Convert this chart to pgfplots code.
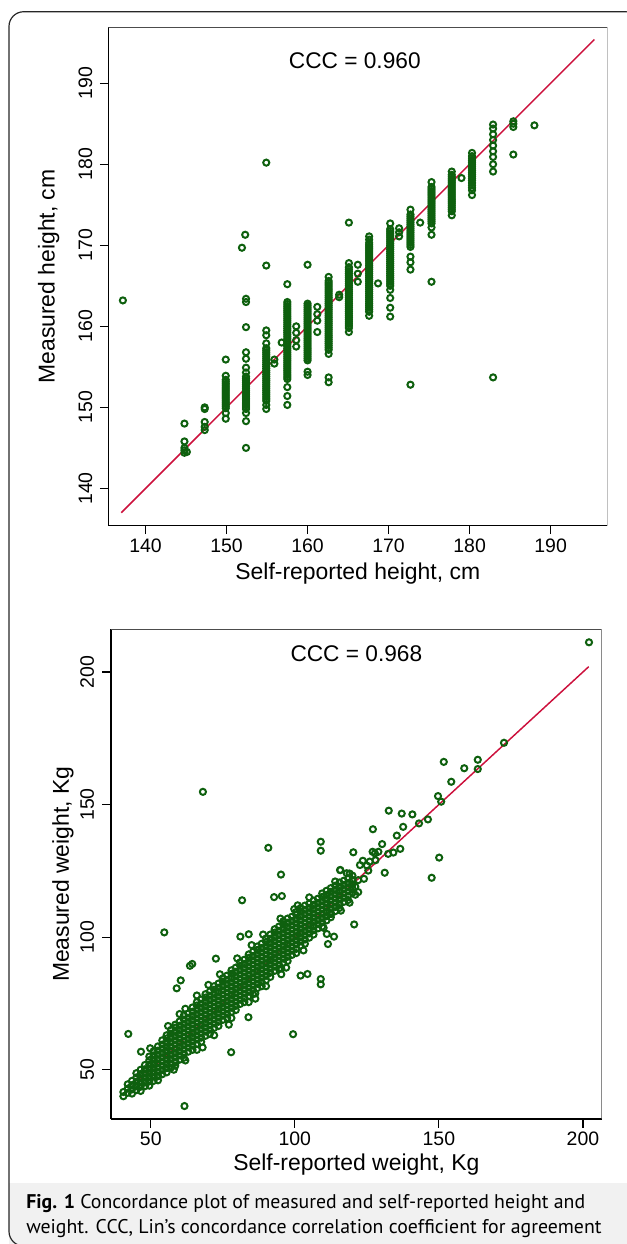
\documentclass[border=0pt]{standalone}
\usepackage{fontspec}
\setmainfont{Liberation Sans}
\newfontfamily\capfont{PT Sans}
\usepackage{pgfplots}
\pgfplotsset{compat=1.18}
\definecolor{mk}{RGB}{14,96,14}
\definecolor{ln}{RGB}{204,16,60}
\definecolor{capbg}{RGB}{241,241,241}
\pgfplotsset{stata/.style={
  scale only axis, anchor=north west,
  axis lines*=left,
  axis line style={black, line width=0.9pt},
  every tick/.style={black, line width=0.9pt},
  major tick length=6.4pt,
  tick align=outside,
  /pgf/number format/assume math mode=true,
  ticklabel style={font=\fontsize{14.6}{14.6}\selectfont},
  label style={font=\fontsize{17.2}{17.2}\selectfont},
  mks/.style={only marks, mark=o, mark size=2.3pt, mark options={mk, line width=1.5pt, solid}},
}}
\begin{document}
\begin{tikzpicture}
\useasboundingbox (0,0) rectangle (470.25pt,-933pt);
\fill[capbg] (6.75pt,-887pt) rectangle (480pt,-940pt);
\draw[line width=0.9pt, black!85, rounded corners=11pt] (6.75pt,-8.8pt) rectangle (480pt,-934.5pt);

% ---------------- Height ----------------
\begin{axis}[stata,
  at={(81.225pt,-20.475pt)}, width=374.25pt, height=373.8pt,
  xmin=135.4, xmax=197.0, ymin=135.4, ymax=196.9,
  xtick={140,150,160,170,180,190}, ytick={140,150,160,170,180,190},
  xticklabel style={anchor=base, yshift=-13.85pt},
  yticklabel style={xshift=-5.8pt, rotate=90, anchor=base},
  xlabel={Self-reported height, cm},
  ylabel={Measured height, cm},
  xlabel style={at={(axis description cs:0.5,0)}, anchor=base, yshift=-40.7pt},
  ylabel style={at={(axis description cs:-0.1078,0.5)}, anchor=base},
]
\addplot[mks] coordinates {
(137.2,163.2)
(144.8,144.4)(144.8,144.7)(144.8,145.0)(144.8,145.8)(144.8,148.0)(145.1,144.5)
(147.3,147.2)(147.3,147.6)(147.3,148.2)(147.3,149.8)(147.3,150.0)
(149.9,148.6)(149.9,149.3)(149.9,149.9)(149.9,150.4)(149.9,150.9)(149.9,151.4)(149.9,151.9)(149.9,152.4)(149.9,152.9)(149.9,153.4)(149.9,153.9)(149.9,155.9)
(152.4,145.0)(152.4,148.3)(152.4,149.3)(152.4,149.8)(152.4,150.3)(152.4,150.8)(152.4,151.3)(152.4,151.8)(152.4,152.3)(152.4,152.8)(152.4,153.3)(152.4,153.8)(152.4,154.3)(152.4,154.9)(152.4,156.0)(152.4,156.8)(152.4,159.9)(152.4,163.0)(152.4,163.4)(151.9,169.7)(152.3,171.3)
(154.9,149.8)(154.9,150.3)(154.9,150.8)(154.9,151.3)(154.9,151.8)(154.9,152.3)(154.9,152.8)(154.9,153.3)(154.9,153.8)(154.9,154.3)(154.9,154.8)(154.9,155.3)(154.9,155.8)(154.9,156.3)(154.9,156.8)(154.9,157.3)(154.9,157.9)(154.9,158.9)(154.9,159.5)(154.9,167.5)(154.9,180.2)
(155.9,155.4)(155.9,155.9)(156.8,158.0)
(157.5,150.3)(157.5,151.4)(157.5,152.5)(157.5,153.5)(157.5,154.0)(157.5,154.5)(157.5,155.0)(157.5,155.5)(157.5,156.0)(157.5,156.5)(157.5,157.0)(157.5,157.5)(157.5,158.0)(157.5,158.5)(157.5,159.0)(157.5,159.5)(157.5,160.0)(157.5,160.5)(157.5,161.0)(157.5,161.5)(157.5,162.0)(157.5,162.5)(157.5,163.0)(157.5,165.2)
(158.6,157.5)(158.6,158.3)(158.6,159.2)(158.6,160.0)
(160.0,154.0)(160.0,154.4)(160.0,155.8)(160.0,156.3)(160.0,156.8)(160.0,157.3)(160.0,157.8)(160.0,158.3)(160.0,158.8)(160.0,159.3)(160.0,159.8)(160.0,160.3)(160.0,160.8)(160.0,161.3)(160.0,161.8)(160.0,162.3)(160.0,162.8)(160.0,167.6)
(161.2,159.3)(161.2,160.7)(161.2,161.5)(161.2,162.4)
(162.6,153.1)(162.6,153.7)(162.6,156.6)(162.6,157.1)(162.6,157.6)(162.6,158.1)(162.6,158.6)(162.6,159.1)(162.6,159.6)(162.6,160.1)(162.6,160.6)(162.6,161.1)(162.6,161.6)(162.6,162.1)(162.6,162.6)(162.6,163.1)(162.6,163.6)(162.6,164.1)(162.6,164.6)(162.6,165.1)(162.6,165.6)(162.6,166.1)
(163.9,163.6)(163.9,163.9)
(165.1,159.3)(165.1,159.8)(165.1,160.3)(165.1,160.8)(165.1,161.3)(165.1,161.8)(165.1,162.3)(165.1,162.8)(165.1,163.3)(165.1,163.8)(165.1,164.3)(165.1,164.8)(165.1,165.3)(165.1,165.8)(165.1,166.3)(165.1,166.8)(165.1,167.3)(165.1,167.8)(165.1,172.8)
(166.2,165.5)(166.2,166.5)(166.2,167.6)
(167.6,161.3)(167.6,161.8)(167.6,162.3)(167.6,162.8)(167.6,163.3)(167.6,163.8)(167.6,164.3)(167.6,164.8)(167.6,165.3)(167.6,165.8)(167.6,166.3)(167.6,166.8)(167.6,167.3)(167.6,167.8)(167.6,168.3)(167.6,168.8)(167.6,169.3)(167.6,169.8)(167.6,170.3)(167.6,170.7)(167.6,171.1)
(168.7,165.3)
(170.2,161.2)(170.2,162.3)(170.2,163.5)(170.2,164.5)(170.2,165.0)(170.2,165.5)(170.2,166.0)(170.2,166.5)(170.2,167.0)(170.2,167.5)(170.2,168.0)(170.2,168.5)(170.2,169.0)(170.2,169.5)(170.2,170.0)(170.2,170.5)(170.2,171.0)(170.2,171.5)(170.2,172.0)(170.2,172.7)
(171.3,171.1)(171.3,171.6)(171.3,172.1)
(172.7,152.8)(172.7,167.0)(172.7,167.9)(172.7,168.6)(172.7,169.8)(172.7,170.3)(172.7,170.8)(172.7,171.3)(172.7,171.8)(172.7,172.3)(172.7,172.8)(172.7,173.3)(172.7,173.8)(172.7,174.4)
(173.9,172.8)
(175.3,165.5)(175.3,171.3)(175.3,172.2)(175.3,172.7)(175.3,173.2)(175.3,173.7)(175.3,174.2)(175.3,174.7)(175.3,175.2)(175.3,175.7)(175.3,176.2)(175.3,176.7)(175.3,177.2)(175.3,177.8)
(177.8,173.7)(177.8,174.2)(177.8,174.7)(177.8,175.2)(177.8,175.7)(177.8,176.2)(177.8,176.7)(177.8,177.2)(177.8,177.7)(177.8,178.2)(177.8,178.7)(177.8,179.1)
(179.0,178.3)
(180.3,176.2)(180.3,176.8)(180.3,177.4)(180.3,178.0)(180.3,178.5)(180.3,179.0)(180.3,179.5)(180.3,180.0)(180.3,180.5)(180.3,181.0)(180.3,181.4)
(182.9,153.7)(182.9,179.1)(182.9,180.0)(182.9,180.9)(182.9,181.6)(182.9,182.3)(182.9,183.0)(182.9,183.7)(182.9,184.4)(182.9,184.9)
(185.4,181.2)(185.4,184.6)(185.4,185.0)(185.4,185.3)
(188.0,184.8)
(149.9,150.15)(149.9,150.65)(149.9,151.15)(149.9,151.65)(149.9,152.15)(149.9,152.65)(149.9,153.15)
(152.4,150.05)(152.4,150.55)(152.4,151.05)(152.4,151.55)(152.4,152.05)(152.4,152.55)(152.4,153.05)(152.4,153.55)
(154.9,151.05)(154.9,151.55)(154.9,152.05)(154.9,152.55)(154.9,153.05)(154.9,153.55)(154.9,154.05)(154.9,154.55)(154.9,155.05)(154.9,155.55)(154.9,156.05)(154.9,156.55)(154.9,157.05)
(157.5,153.75)(157.5,154.25)(157.5,154.75)(157.5,155.25)(157.5,155.75)(157.5,156.25)(157.5,156.75)(157.5,157.25)(157.5,157.75)(157.5,158.25)(157.5,158.75)(157.5,159.25)(157.5,159.75)(157.5,160.25)(157.5,160.75)(157.5,161.25)(157.5,161.75)(157.5,162.25)(157.5,162.75)
(160.0,156.05)(160.0,156.55)(160.0,157.05)(160.0,157.55)(160.0,158.05)(160.0,158.55)(160.0,159.05)(160.0,159.55)(160.0,160.05)(160.0,160.55)(160.0,161.05)(160.0,161.55)(160.0,162.05)(160.0,162.55)
(162.6,157.35)(162.6,157.85)(162.6,158.35)(162.6,158.85)(162.6,159.35)(162.6,159.85)(162.6,160.35)(162.6,160.85)(162.6,161.35)(162.6,161.85)(162.6,162.35)(162.6,162.85)(162.6,163.35)(162.6,163.85)(162.6,164.35)(162.6,164.85)(162.6,165.35)
(165.1,160.05)(165.1,160.55)(165.1,161.05)(165.1,161.55)(165.1,162.05)(165.1,162.55)(165.1,163.05)(165.1,163.55)(165.1,164.05)(165.1,164.55)(165.1,165.05)(165.1,165.55)(165.1,166.05)(165.1,166.55)(165.1,167.05)
(167.6,162.05)(167.6,162.55)(167.6,163.05)(167.6,163.55)(167.6,164.05)(167.6,164.55)(167.6,165.05)(167.6,165.55)(167.6,166.05)(167.6,166.55)(167.6,167.05)(167.6,167.55)(167.6,168.05)(167.6,168.55)(167.6,169.05)(167.6,169.55)(167.6,170.05)
(170.2,165.25)(170.2,165.75)(170.2,166.25)(170.2,166.75)(170.2,167.25)(170.2,167.75)(170.2,168.25)(170.2,168.75)(170.2,169.25)(170.2,169.75)(170.2,170.25)(170.2,170.75)(170.2,171.25)(170.2,171.75)
(172.7,170.05)(172.7,170.55)(172.7,171.05)(172.7,171.55)(172.7,172.05)(172.7,172.55)(172.7,173.05)(172.7,173.55)
(175.3,172.95)(175.3,173.45)(175.3,173.95)(175.3,174.45)(175.3,174.95)(175.3,175.45)(175.3,175.95)(175.3,176.45)(175.3,176.95)
(177.8,174.45)(177.8,174.95)(177.8,175.45)(177.8,175.95)(177.8,176.45)(177.8,176.95)(177.8,177.45)(177.8,177.95)(177.8,178.45)
(180.3,177.1)(180.3,177.7)(180.3,178.25)(180.3,178.75)(180.3,179.25)(180.3,179.75)(180.3,180.25)(180.3,180.75)
};
\addplot[ln, line width=1.1pt] coordinates {(137,137)(195.4,195.4)};
\draw[black!70, line width=0.75pt] (rel axis cs:0,1) -- (rel axis cs:1,1) -- (rel axis cs:1,0);
\node[anchor=base, font=\fontsize{17}{17}\selectfont] at (axis description cs:0.494,0.918) {CCC = 0.960};
\end{axis}

% ---------------- Weight ----------------
\begin{axis}[stata,
  at={(83.25pt,-471.975pt)}, width=368.0pt, height=367.3pt,
  xmin=36.2, xmax=206.5, ymin=31.4, ymax=216.1,
  xtick={50,100,150,200}, ytick={50,100,150,200},
  xticklabel style={anchor=base, yshift=-13.4pt},
  yticklabel style={xshift=-6.35pt, rotate=90, anchor=base},
  xlabel={Self-reported weight, Kg},
  ylabel={Measured weight, Kg},
  xlabel style={at={(axis description cs:0.5,0)}, anchor=base, yshift=-38.25pt},
  ylabel style={at={(axis description cs:-0.0856,0.5)}, anchor=base},
]
\addplot[mks] coordinates {
(40.5,40.0)(40.5,41.6)
(42,41.3)(42,42.9)(42,44.5)
(43.5,41.0)(43.5,42.6)(43.5,44.2)(43.5,45.8)
(45,42.3)(45,43.9)(45,45.5)(45,47.1)(45,48.7)
(46.5,42.0)(46.5,43.6)(46.5,45.2)(46.5,46.8)(46.5,48.4)(46.5,50.0)
(48,43.8)(48,45.4)(48,47.0)(48,48.6)(48,50.2)(48,51.8)
(49.5,44.0)(49.5,45.6)(49.5,47.2)(49.5,48.8)(49.5,50.4)(49.5,52.0)(49.5,53.6)(49.5,55.0)
(51,45.8)(51,47.4)(51,49.0)(51,50.6)(51,52.2)(51,53.8)(51,55.4)(51,57.0)
(52.5,46.0)(52.5,47.6)(52.5,49.2)(52.5,50.8)(52.5,52.4)(52.5,54.0)(52.5,55.6)(52.5,57.2)(52.5,58.8)
(54,48.3)(54,49.9)(54,51.5)(54,53.1)(54,54.7)(54,56.3)(54,57.9)(54,59.5)(54,61.1)
(55.5,49.0)(55.5,50.6)(55.5,52.2)(55.5,53.8)(55.5,55.4)(55.5,57.0)(55.5,58.6)(55.5,60.2)(55.5,61.8)(55.5,63.0)
(57,50.8)(57,52.4)(57,54.0)(57,55.6)(57,57.2)(57,58.8)(57,60.4)(57,62.0)(57,63.6)(57,65.0)
(58.5,51.5)(58.5,53.1)(58.5,54.7)(58.5,56.3)(58.5,57.9)(58.5,59.5)(58.5,61.1)(58.5,62.7)(58.5,64.3)(58.5,65.9)(58.5,67.0)
(60,53.8)(60,55.4)(60,57.0)(60,58.6)(60,60.2)(60,61.8)(60,63.4)(60,65.0)(60,66.6)(60,68.2)
(61.5,54.5)(61.5,56.1)(61.5,57.7)(61.5,59.3)(61.5,60.9)(61.5,62.5)(61.5,64.1)(61.5,65.7)(61.5,67.3)(61.5,68.9)(61.5,70.5)
(63,56.8)(63,58.4)(63,60.0)(63,61.6)(63,63.2)(63,64.8)(63,66.4)(63,68.0)(63,69.6)(63,71.2)
(64.5,57.5)(64.5,59.1)(64.5,60.7)(64.5,62.3)(64.5,63.9)(64.5,65.5)(64.5,67.1)(64.5,68.7)(64.5,70.3)(64.5,71.9)(64.5,73.5)
(66,59.8)(66,61.4)(66,63.0)(66,64.6)(66,66.2)(66,67.8)(66,69.4)(66,71.0)(66,72.6)(66,74.2)(66,75.5)
(67.5,60.5)(67.5,62.1)(67.5,63.7)(67.5,65.3)(67.5,66.9)(67.5,68.5)(67.5,70.1)(67.5,71.7)(67.5,73.3)(67.5,74.9)(67.5,76.5)
(69,62.8)(69,64.4)(69,66.0)(69,67.6)(69,69.2)(69,70.8)(69,72.4)(69,74.0)(69,75.6)(69,77.2)(69,78.5)
(70.5,63.5)(70.5,65.1)(70.5,66.7)(70.5,68.3)(70.5,69.9)(70.5,71.5)(70.5,73.1)(70.5,74.7)(70.5,76.3)(70.5,77.9)(70.5,79.5)
(72,65.8)(72,67.4)(72,69.0)(72,70.6)(72,72.2)(72,73.8)(72,75.4)(72,77.0)(72,78.6)(72,80.2)(72,81.5)
(73.5,66.5)(73.5,68.1)(73.5,69.7)(73.5,71.3)(73.5,72.9)(73.5,74.5)(73.5,76.1)(73.5,77.7)(73.5,79.3)(73.5,80.9)(73.5,82.5)
(75,68.8)(75,70.4)(75,72.0)(75,73.6)(75,75.2)(75,76.8)(75,78.4)(75,80.0)(75,81.6)(75,83.2)(75,84.5)
(76.5,69.5)(76.5,71.1)(76.5,72.7)(76.5,74.3)(76.5,75.9)(76.5,77.5)(76.5,79.1)(76.5,80.7)(76.5,82.3)(76.5,83.9)(76.5,85.5)
(78,71.8)(78,73.4)(78,75.0)(78,76.6)(78,78.2)(78,79.8)(78,81.4)(78,83.0)(78,84.6)(78,86.2)(78,87.5)
(79.5,72.5)(79.5,74.1)(79.5,75.7)(79.5,77.3)(79.5,78.9)(79.5,80.5)(79.5,82.1)(79.5,83.7)(79.5,85.3)(79.5,86.9)(79.5,88.5)
(81,74.8)(81,76.4)(81,78.0)(81,79.6)(81,81.2)(81,82.8)(81,84.4)(81,86.0)(81,87.6)(81,89.2)(81,90.5)
(82.5,75.5)(82.5,77.1)(82.5,78.7)(82.5,80.3)(82.5,81.9)(82.5,83.5)(82.5,85.1)(82.5,86.7)(82.5,88.3)(82.5,89.9)(82.5,91.5)
(84,77.8)(84,79.4)(84,81.0)(84,82.6)(84,84.2)(84,85.8)(84,87.4)(84,89.0)(84,90.6)(84,92.2)(84,93.5)
(85.5,78.5)(85.5,80.1)(85.5,81.7)(85.5,83.3)(85.5,84.9)(85.5,86.5)(85.5,88.1)(85.5,89.7)(85.5,91.3)(85.5,92.9)(85.5,94.5)
(87,80.8)(87,82.4)(87,84.0)(87,85.6)(87,87.2)(87,88.8)(87,90.4)(87,92.0)(87,93.6)(87,95.2)(87,96.5)
(88.5,81.5)(88.5,83.1)(88.5,84.7)(88.5,86.3)(88.5,87.9)(88.5,89.5)(88.5,91.1)(88.5,92.7)(88.5,94.3)(88.5,95.9)(88.5,97.5)
(90,83.8)(90,85.4)(90,87.0)(90,88.6)(90,90.2)(90,91.8)(90,93.4)(90,95.0)(90,96.6)(90,98.2)(90,99.5)
(91.5,85.0)(91.5,86.6)(91.5,88.2)(91.5,89.8)(91.5,91.4)(91.5,93.0)(91.5,94.6)(91.5,96.2)(91.5,97.8)(91.5,99.4)(91.5,101.0)
(93,87.3)(93,88.9)(93,90.5)(93,92.1)(93,93.7)(93,95.3)(93,96.9)(93,98.5)(93,100.1)(93,101.7)(93,103.0)
(94.5,88.0)(94.5,89.6)(94.5,91.2)(94.5,92.8)(94.5,94.4)(94.5,96.0)(94.5,97.6)(94.5,99.2)(94.5,100.8)(94.5,102.4)(94.5,104.0)
(96,90.3)(96,91.9)(96,93.5)(96,95.1)(96,96.7)(96,98.3)(96,99.9)(96,101.5)(96,103.1)(96,104.7)(96,106.0)
(97.5,91.0)(97.5,92.6)(97.5,94.2)(97.5,95.8)(97.5,97.4)(97.5,99.0)(97.5,100.6)(97.5,102.2)(97.5,103.8)(97.5,105.4)(97.5,107.0)
(99,93.3)(99,94.9)(99,96.5)(99,98.1)(99,99.7)(99,101.3)(99,102.9)(99,104.5)(99,106.1)(99,107.7)
(100.5,94.0)(100.5,95.6)(100.5,97.2)(100.5,98.8)(100.5,100.4)(100.5,102.0)(100.5,103.6)(100.5,105.2)(100.5,106.8)(100.5,108.4)(100.5,109.5)
(102,96.8)(102,98.4)(102,100.0)(102,101.6)(102,103.2)(102,104.8)(102,106.4)(102,108.0)(102,109.6)(102,111.0)
(103.5,97.5)(103.5,99.1)(103.5,100.7)(103.5,102.3)(103.5,103.9)(103.5,105.5)(103.5,107.1)(103.5,108.7)(103.5,110.3)(103.5,111.9)
(105,99.8)(105,101.4)(105,103.0)(105,104.6)(105,106.2)(105,107.8)(105,109.4)(105,111.0)(105,112.6)
(106.5,101.0)(106.5,102.6)(106.5,104.2)(106.5,105.8)(106.5,107.4)(106.5,109.0)(106.5,110.6)(106.5,112.2)(106.5,113.8)
(108,103.3)(108,104.9)(108,106.5)(108,108.1)(108,109.7)(108,111.3)(108,112.9)(108,114.5)
(109.5,104.0)(109.5,105.6)(109.5,107.2)(109.5,108.8)(109.5,110.4)(109.5,112.0)(109.5,113.6)(109.5,115.2)(109.5,116.5)
(111,106.3)(111,107.9)(111,109.5)(111,111.1)(111,112.7)(111,114.3)(111,115.9)(111,117.5)
(112.5,107.5)(112.5,109.1)(112.5,110.7)(112.5,112.3)(112.5,113.9)(112.5,115.5)(112.5,117.1)(112.5,118.5)
(114,109.8)(114,111.4)(114,113.0)(114,114.6)(114,116.2)(114,117.8)(114,119.4)
(115.5,111.0)(115.5,112.6)(115.5,114.2)(115.5,115.8)(115.5,117.4)(115.5,119.0)(115.5,120.6)
(117,113.3)(117,114.9)(117,116.5)(117,118.1)(117,119.7)(117,121.3)
(118.5,114.0)(118.5,115.6)(118.5,117.2)(118.5,118.8)(118.5,120.4)(118.5,122.0)
(120,116.8)(120,118.4)(120,120.0)(120,121.6)(120,123.2)
(121,119)(122,121.5)(124,122)(125,127)(126,128.5)(128,129)(119,113)(121,116)(122,117)(116,110)(114,121)(119,124)
(56,66.5)(60,71)(62,73)(66,78)(70,82)(74,86)(80,92)(85,97)(89,101)(95,107)(101,112)(105,115)
(58,50)(62,53.5)(66,57.5)(72,63)(78,69.5)(84,75.5)(90,81.5)(97,88.5)(103,95)(110,103.5)
(42.2,63.5)(46.6,56.8)(49.8,58.1)(52.6,47.6)(58.7,52.8)(61.7,36.3)(68.0,58.4)(77.9,56.6)(99.4,63.4)(77.1,67.0)(83.9,69.8)(86.3,78.8)(86.3,76.8)
(54.7,101.8)(72.6,91.9)(63.6,89.2)(64.4,89.9)(60.4,83.7)(59.0,80.7)(68.1,154.8)(81.7,113.9)(92.8,115.1)(95.5,115.5)(95.2,123.6)(90.8,133.7)
(109.0,136.0)(109.0,132.6)(102.0,85.5)(104.4,86.1)(109.0,84.2)(109.0,82.2)(95.3,86.0)(95.3,88.2)(81.1,100.2)(84.0,101.1)(99.8,110.6)(112.6,108.7)
(115.8,125.3)(111.5,97.4)(113.6,100.2)(111.1,101.2)(120.6,104.8)(122.6,127.2)(123.6,128.8)(125.5,125.1)(115.7,125.3)(118.0,124.1)(120.3,132.0)
(127.0,132.2)(127.8,131.6)(129.0,132.2)(131.2,124.3)(130.3,135.1)(134.2,131.9)(132.4,131.4)(136.6,133.3)(127.1,140.7)(137.6,141.6)(135.4,138.3)
(132.6,147.7)(137.1,146.6)(140.8,146.3)(143.1,142.9)(146.2,144.4)(149.7,153.2)(150.8,151.1)(150.1,130.0)(147.5,122.4)(154.3,158.6)(151.7,166.1)
(158.8,163.7)(163.5,166.9)(163.5,163.4)(172.6,173.3)(202.1,211.2)
};
\addplot[ln, line width=1.1pt] coordinates {(41,41)(202,202)};
\draw[black!70, line width=0.75pt] (rel axis cs:0,1) -- (rel axis cs:1,1) -- (rel axis cs:1,0);
\node[anchor=base, font=\fontsize{17}{17}\selectfont] at (axis description cs:0.5,0.935) {CCC = 0.968};
\end{axis}

\node[anchor=base west, font=\capfont\fontsize{14.85}{14.85}\selectfont, inner sep=0pt] at (19.5pt,-906pt) {\textbf{Fig. 1} Concordance plot of measured and self-reported height and};
\node[anchor=base west, font=\capfont\fontsize{14.85}{14.85}\selectfont, inner sep=0pt] at (19.5pt,-924.75pt) {weight. CCC, Lin’s concordance correlation coefficient for agreement};
\end{tikzpicture}
\end{document}
